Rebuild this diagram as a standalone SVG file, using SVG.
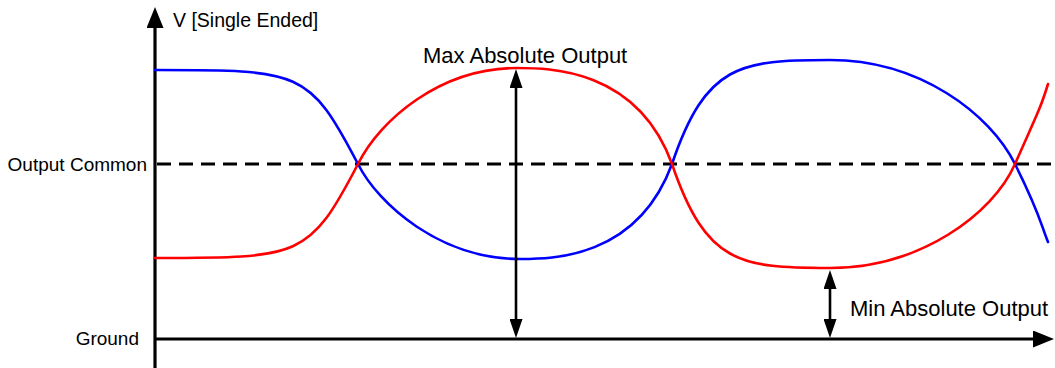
<svg xmlns="http://www.w3.org/2000/svg" width="1055" height="368" viewBox="0 0 1055 368">
  <style>
    .axis { stroke: #000; stroke-width: 3.2; fill: none; }
    .dash { stroke: #000; stroke-width: 3; fill: none; stroke-dasharray: 14 8; }
    .meas { stroke: #000; stroke-width: 2.6; fill: none; }
    .blue { stroke: #0000ff; stroke-width: 2.6; fill: none; stroke-linecap: round; }
    .red { stroke: #ff0000; stroke-width: 2.6; fill: none; stroke-linecap: round; }
    .lbl { font-family: "Liberation Sans", Arial, sans-serif; fill: #000; }
  </style>
  <defs>
    <marker id="bigArrow" viewBox="0 0 21 17" refX="0" refY="8.5" markerWidth="21" markerHeight="17" markerUnits="userSpaceOnUse" orient="auto">
      <path d="M0,0 L21,8.5 L0,17 Z" fill="#000"/>
    </marker>
    <marker id="smallArrow" viewBox="0 0 19 13" refX="0" refY="6.5" markerWidth="19" markerHeight="13" markerUnits="userSpaceOnUse" orient="auto-start-reverse">
      <path d="M0,0 L19,6.5 L0,13 Z" fill="#000"/>
    </marker>
  </defs>

  <g id="axes">
    <line class="axis" x1="155" y1="368" x2="155" y2="28" marker-end="url(#bigArrow)"/>
    <line class="axis" x1="155" y1="339" x2="1033" y2="339" marker-end="url(#bigArrow)"/>
    <line class="dash" x1="157" y1="164" x2="1055" y2="164"/>
  </g>

  <g id="curves">
    <path id="blue-curve" class="blue" d="M155,70 C301,70 309,70 358,164 C378,204 440,259 520,259 C551,259 637,259 672,164 C706,64 740,60 830,60 C920,60 990,114 1015,164 S1040,222 1048,242"/>
    <path id="red-curve" class="red" d="M155,258 C301,258 309,258 358,164 C380,120 440,68 517,68 C548,68 637,68 672,164 C706,264 740,268 830,268 C920,268 993,214 1015,164 S1040,110 1048,84"/>
  </g>

  <g id="connectors">
    <line class="meas" x1="516" y1="88" x2="516" y2="319" marker-start="url(#smallArrow)" marker-end="url(#smallArrow)"/>
    <line class="meas" x1="830" y1="289" x2="830" y2="319" marker-start="url(#smallArrow)" marker-end="url(#smallArrow)"/>
  </g>

  <g id="labels">
    <text class="lbl" x="173" y="27" font-size="19.5">V [Single Ended]</text>
    <text class="lbl" x="147" y="171" font-size="19" text-anchor="end">Output Common</text>
    <text class="lbl" x="139" y="345" font-size="19" text-anchor="end">Ground</text>
    <text class="lbl" x="423" y="63" font-size="22">Max Absolute Output</text>
    <text class="lbl" x="850" y="316" font-size="22">Min Absolute Output</text>
  </g>
</svg>
